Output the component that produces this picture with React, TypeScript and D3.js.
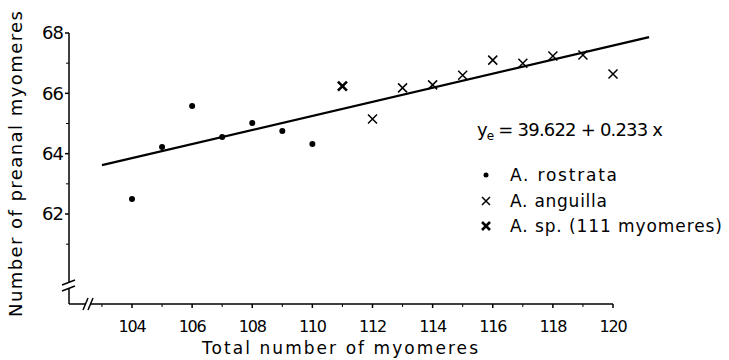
import React from 'react';
import * as d3 from 'd3';

const width = 729;
const height = 360;

// A. rostrata (dots)
const rostrataX = [104, 105, 106, 107, 108, 109, 110];
const rostrataY = [62.5, 64.22, 65.58, 64.55, 65.02, 64.75, 64.32];
// A. anguilla (crosses)
const anguillaX = [112, 113, 114, 115, 116, 117, 118, 119, 120];
const anguillaY = [65.15, 66.18, 66.28, 66.6, 67.1, 67.0, 67.24, 67.27, 66.64];
// A. sp. (111 myomeres)
const spX = [111];
const spY = [66.24];

const xTicks = [104, 106, 108, 110, 112, 114, 116, 118, 120];
const xMinor = [103, 105, 107, 109, 111, 113, 115, 117, 119];
const yTicks = [62, 64, 66, 68];
const yMinor = [61, 63, 65, 67];

const intercept = 39.622;
const slope = 0.233;
const lineRange = [103, 121.2];

const legendLabels = ['A. rostrata', 'A. anguilla', 'A. sp. (111 myomeres)'];

const font = '"DejaVu Sans", sans-serif';

export default function App() {
  const x = d3.scaleLinear().domain([104, 120]).range([132, 613]);
  const y = d3.scaleLinear().domain([62, 68]).range([214, 33]);

  const axisX = 69;
  const axisY = 304;

  const reg = d3.line<number>()
    .x(d => x(d))
    .y(d => y(intercept + slope * d));

  const cross = (cx: number, cy: number, s: number) =>
    `M${cx - s},${cy - s}L${cx + s},${cy + s}M${cx - s},${cy + s}L${cx + s},${cy - s}`;

  const legendY = [175, 201, 226];
  const legendLen = [107, 97, 212];

  return (
    <svg width={width} height={height} style={{ position: 'absolute', left: 0, top: 0, background: '#fff' }}>
      <g stroke="#000" fill="none" strokeWidth={1.5}>
        {/* y axis */}
        <line x1={axisX} y1={y(68)} x2={axisX} y2={axisY} />
        {yTicks.map(t => <line key={'yt' + t} x1={axisX - 4} x2={axisX} y1={y(t)} y2={y(t)} />)}
        {yMinor.map(t => <line key={'ym' + t} x1={axisX - 3} x2={axisX} y1={y(t)} y2={y(t)} strokeWidth={1} />)}
        {/* y break */}
        <rect x={axisX - 2} y={283} width={4} height={5} fill="#fff" stroke="none" />
        <line x1={axisX - 7} y1={285} x2={axisX + 6} y2={280} />
        <line x1={axisX - 7} y1={291} x2={axisX + 6} y2={286} />
        {/* x axis */}
        <line x1={axisX} y1={axisY} x2={x(120)} y2={axisY} />
        {xTicks.map(t => <line key={'xt' + t} x1={x(t)} x2={x(t)} y1={axisY} y2={axisY + 4} />)}
        {xMinor.map(t => <line key={'xm' + t} x1={x(t)} x2={x(t)} y1={axisY} y2={axisY + 3} strokeWidth={1} />)}
        <rect x={85} y={axisY - 2} width={5} height={4} fill="#fff" stroke="none" />
        <line x1={83} y1={axisY + 6} x2={88} y2={axisY - 6} />
        <line x1={88} y1={axisY + 6} x2={93} y2={axisY - 6} />
        {/* regression */}
        <path d={reg(lineRange) || ''} strokeWidth={2.2} />
        {/* crosses */}
        {anguillaX.map((v, i) => <path key={'a' + v} d={cross(x(v), y(anguillaY[i]), 4.5)} strokeWidth={1.5} />)}
        {spX.map((v, i) => <path key={'s' + v} d={cross(x(v), y(spY[i]), 4.5)} strokeWidth={2.6} />)}
        {/* legend crosses */}
        <path d={cross(486, legendY[1], 4)} strokeWidth={1.5} />
        <path d={cross(486, legendY[2], 4)} strokeWidth={2.6} />
      </g>
      {rostrataX.map((v, i) => <circle key={'r' + v} cx={x(v)} cy={y(rostrataY[i])} r={3} fill="#000" />)}
      <circle cx={486} cy={legendY[0]} r={2.5} fill="#000" />

      <g fontFamily={font} fill="#000">
        {yTicks.map(t => (
          <text key={'yl' + t} x={axisX - 6} y={y(t)} dy="0.36em" textAnchor="end" fontSize={18} letterSpacing={-1}>{t}</text>
        ))}
        {xTicks.map(t => (
          <text key={'xl' + t} x={x(t)} y={332} textAnchor="middle" fontSize={16} letterSpacing={-1.2}>{t}</text>
        ))}
        <text x={340} y={354} textAnchor="middle" fontSize={17} textLength={276} lengthAdjust="spacing">Total number of myomeres</text>
        <text transform="translate(22,164) rotate(-90)" textAnchor="middle" fontSize={18} textLength={306} lengthAdjust="spacing">Number of  preanal myomeres</text>
        <text x={477} y={136} fontSize={18} letterSpacing={-0.8}>
          y<tspan fontSize={12} dy={4}>e</tspan><tspan dy={-4}> = 39.622 + 0.233 x</tspan>
        </text>
        {legendLabels.map((l, i) => (
          <text key={l} x={510} y={legendY[i]} dy="0.35em" fontSize={17} textLength={legendLen[i]} lengthAdjust="spacing">{l}</text>
        ))}
      </g>
    </svg>
  );
}
